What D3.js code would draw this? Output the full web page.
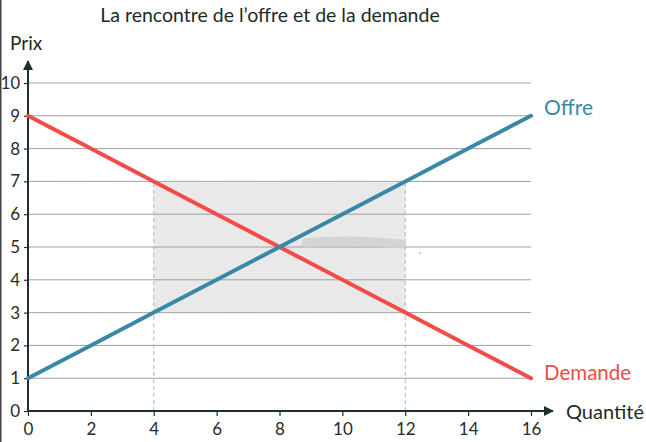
<!DOCTYPE html>
<html>
<head>
<meta charset="utf-8">
<script src="https://cdn.jsdelivr.net/npm/d3@7"></script>
<style>
  body { margin: 0; background: #fff; }
  svg { display: block; font-family: Lato, "Open Sans", sans-serif; }
</style>
</head>
<body>
<div class="container"></div>
<script>
// Data
const quantities = [0, 2, 4, 6, 8, 10, 12, 14, 16];
const offre = [1, 2, 3, 4, 5, 6, 7, 8, 9];
const demande = [9, 8, 7, 6, 5, 4, 3, 2, 1];
const xTicks = [0, 2, 4, 6, 8, 10, 12, 14, 16];
const yTicks = [0, 1, 2, 3, 4, 5, 6, 7, 8, 9, 10];
// zone between the two price levels
const zoneQ = [4, 12];
const zoneP = [3, 7];

const WIDTH = 646;
const HEIGHT = 442;
const AXIS_COLOR = "#1e302d";

const svg = d3
  .select(".container")
  .append("svg")
  .attr("width", WIDTH)
  .attr("height", HEIGHT);

const x = d3.scaleLinear().domain([0, 16]).range([28, 531]);
const y = d3.scaleLinear().domain([0, 10]).range([411, 83]);

// Left edge
svg.append("rect").attr("x", 0).attr("y", 0).attr("width", 1.5).attr("height", HEIGHT).attr("fill", "#444");

// Title
svg
  .append("text")
  .attr("x", 270)
  .attr("y", 22)
  .attr("text-anchor", "middle")
  .attr("font-size", 19.5)
  .attr("fill", "#1c2b29")
  .text("La rencontre de l\u2019offre et de la demande");

// Shaded zone
svg
  .append("rect")
  .attr("x", x(zoneQ[0]))
  .attr("y", y(zoneP[1]))
  .attr("width", x(zoneQ[1]) - x(zoneQ[0]))
  .attr("height", y(zoneP[0]) - y(zoneP[1]))
  .attr("fill", "#e9e9e9");

// Gridlines
svg
  .append("g")
  .selectAll("line")
  .data(yTicks.filter((d) => d > 0))
  .join("line")
  .attr("x1", x(0))
  .attr("x2", x(16))
  .attr("y1", (d) => y(d))
  .attr("y2", (d) => y(d))
  .attr("stroke", "#a0a0a0")
  .attr("stroke-width", 1);

// Dashed guides
const dash = svg
  .append("g")
  .attr("stroke", "#b4b4b4")
  .attr("stroke-width", 1)
  .attr("stroke-dasharray", "4,3")
  .attr("fill", "none");
zoneP.forEach((p) => {
  dash.append("line")
    .attr("x1", x(0)).attr("x2", x(zoneQ[1]))
    .attr("y1", y(p)).attr("y2", y(p));
});
zoneQ.forEach((q) => {
  dash.append("line")
    .attr("x1", x(q)).attr("x2", x(q))
    .attr("y1", y(0)).attr("y2", y(zoneP[1]));
});

// Smudge
svg
  .append("path")
  .attr("d", "M306,243 C330,240 360,240 402,244")
  .attr("stroke", "#d2d2d2")
  .attr("stroke-width", 9)
  .attr("stroke-linecap", "round")
  .attr("fill", "none")
  .attr("opacity", 0.9);
svg.append("circle").attr("cx", 420).attr("cy", 253).attr("r", 0.8).attr("fill", "#888");

// Axes
const xAxis = svg
  .append("g")
  .attr("transform", `translate(0,${y(0)})`)
  .call(d3.axisBottom(x).tickValues(xTicks).tickSize(5).tickPadding(5));
const yAxis = svg
  .append("g")
  .attr("transform", `translate(${x(0)},0)`)
  .call(d3.axisLeft(y).tickValues(yTicks).tickSize(4).tickPadding(4));

[xAxis, yAxis].forEach((g) => {
  g.select(".domain").remove();
  g.selectAll("line").attr("stroke", AXIS_COLOR).attr("stroke-width", 1.2);
  g.selectAll("text")
    .attr("font-family", "Lato, sans-serif")
    .attr("font-size", 17)
    .attr("fill", "#2a2a2a");
});
xAxis.selectAll("text").attr("dy", "0.85em");
yAxis.selectAll("text").filter((d) => d === 10).attr("font-size", 16.5);

// Axis lines with arrows
svg
  .append("defs")
  .append("marker")
  .attr("id", "arrow")
  .attr("viewBox", "0 0 10 10")
  .attr("refX", 9)
  .attr("refY", 5)
  .attr("markerWidth", 10)
  .attr("markerHeight", 10)
  .attr("markerUnits", "userSpaceOnUse")
  .attr("orient", "auto")
  .append("path")
  .attr("d", "M0,0 L10,5 L0,10 z")
  .attr("fill", AXIS_COLOR);

svg.append("line")
  .attr("x1", x(0)).attr("x2", 553)
  .attr("y1", y(0)).attr("y2", y(0))
  .attr("stroke", AXIS_COLOR).attr("stroke-width", 2)
  .attr("marker-end", "url(#arrow)");
svg.append("line")
  .attr("x1", x(0)).attr("x2", x(0))
  .attr("y1", y(0)).attr("y2", 61)
  .attr("stroke", AXIS_COLOR).attr("stroke-width", 2)
  .attr("marker-end", "url(#arrow)");

// Curves
const line = d3.line().x((d) => x(d[0])).y((d) => y(d[1]));
svg.append("path")
  .datum(quantities.map((q, i) => [q, demande[i]]))
  .attr("d", line)
  .attr("fill", "none")
  .attr("stroke", "#f34b47")
  .attr("stroke-width", 4)
  .attr("stroke-linecap", "round");
svg.append("path")
  .datum(quantities.map((q, i) => [q, offre[i]]))
  .attr("d", line)
  .attr("fill", "none")
  .attr("stroke", "#3a88a8")
  .attr("stroke-width", 4)
  .attr("stroke-linecap", "round");

// Labels
svg.append("text").attr("x", 10).attr("y", 50)
  .attr("font-size", 19).attr("fill", "#1c2b29").text("Prix");
svg.append("text").attr("x", 566).attr("y", 419)
  .attr("font-size", 20).attr("fill", "#1c2b29").text("Quantité");
svg.append("text").attr("x", 544).attr("y", 115)
  .attr("font-size", 21).attr("fill", "#3a88a8").text("Offre");
svg.append("text").attr("x", 544).attr("y", 380)
  .attr("font-size", 20.5).attr("fill", "#f34b47").text("Demande");
</script>
</body>
</html>
